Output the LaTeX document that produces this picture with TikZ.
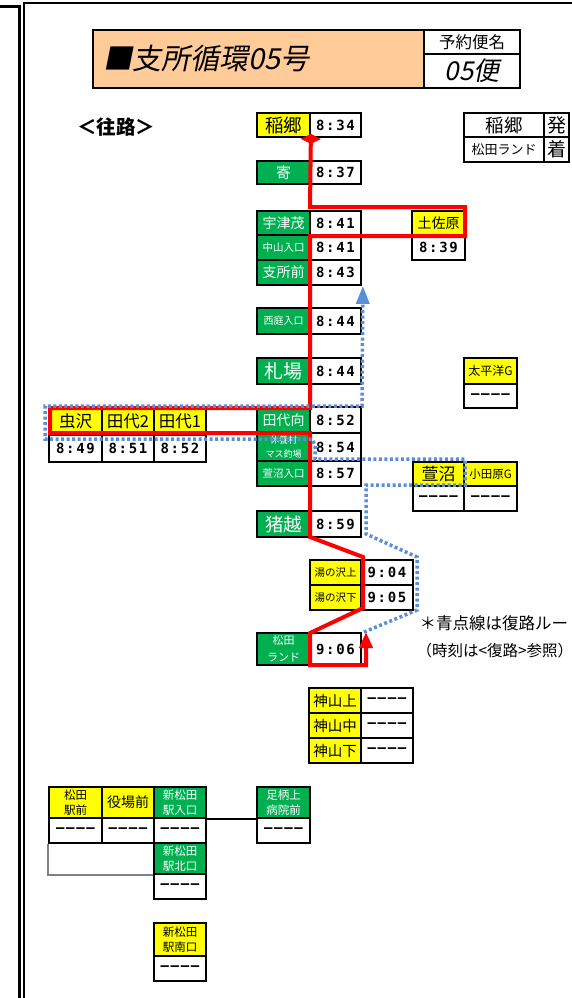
\documentclass[tikz,border=0pt]{standalone}
\usepackage{fontspec}
\newfontfamily\jp{Noto Sans CJK JP}
\newfontfamily\timefont{DejaVu Sans Mono}[LetterSpace=12]
\usetikzlibrary{arrows.meta}
\definecolor{xgreen}{HTML}{00B050}
\definecolor{xyellow}{HTML}{FFFF00}
\definecolor{xpeach}{HTML}{FFCC99}
\definecolor{xblue}{HTML}{5B8ED6}
\definecolor{xred}{HTML}{FF0000}
\tikzset{
 bx/.style={draw=black, line width=1.8pt, inner sep=0pt, align=center},
 gr/.style={bx, fill=xgreen, text=white},
 yl/.style={bx, fill=xyellow, text=black},
 tmc/.style={bx, fill=white, font=\timefont\bfseries\fontsize{14}{14}\selectfont},
 sz/.style 2 args={minimum width=#1, minimum height=#2},
 fs/.style={font=\jp\fontsize{#1}{#1}\selectfont},
 redroute/.style={draw=xred, line width=4pt},
 blueroute/.style={draw=xblue, line width=3.5pt, dash pattern=on 3pt off 2.5pt},
}
\begin{document}
\begin{tikzpicture}[x=1pt,y=-1pt]
\path[use as bounding box] (0,0) rectangle (572,998);
\clip (0,0) rectangle (572,998);
% frame
\draw[line width=3pt] (0,6.5) -- (19,6.5) -- (19,998);
\draw[line width=2pt] (24,998) -- (24,3) -- (572,3);
% header
\node[bx, fill=xpeach, sz={331pt}{58pt}] (title) at (258.5,59) {};
\node[anchor=west, font=\jp\fontsize{29}{29}\selectfont\addfontfeature{FakeSlant=0.2}] (titletxt) at ([xshift=8pt]title.west) {■支所循環05号};
\node[bx, fill=white, sz={96pt}{24pt}, fs=16.5] (yoyaku) at (472,42) {予約便名};
\node[bx, fill=white, sz={96pt}{34pt}, font=\jp\fontsize{26}{26}\selectfont\addfontfeature{FakeSlant=0.2}] (bin) at (472,71) {05便};
\node[font=\jp\bfseries\fontsize{19.5}{19.5}\selectfont] (ouro) at (116,127) {＜往路＞};
% legend
\node[bx, sz={80pt}{24pt}, fs=18.5] (lgA) at (504,125) {稲郷};
\node[bx, sz={25pt}{24pt}, fs=19] (lgB) at (556.5,125) {発};
\node[bx, sz={80pt}{25pt}, fs=13] (lgC) at (504,149.5) {松田ランド};
\node[bx, sz={25pt}{25pt}, fs=19] (lgD) at (556.5,149.5) {着};
% main column
\node[yl, sz={53pt}{24pt}, fs=18.5] (inagoL) at (283.5,125) {稲郷};
\node[tmc, sz={51pt}{24pt}] (inagoT) at (335.5,125) {8:34};
\node[gr, sz={53pt}{23pt}, fs=15] (yadoL) at (283.5,172.5) {寄};
\node[tmc, sz={51pt}{23pt}] (yadoT) at (335.5,172.5) {8:37};
\node[gr, sz={53pt}{24pt}, fs=14] (utsuL) at (283.5,223) {宇津茂};
\node[tmc, sz={51pt}{24pt}] (utsuT) at (335.5,223) {8:41};
\node[gr, sz={53pt}{25pt}, fs=10.5] (nakaL) at (283.5,247.5) {中山入口};
\node[tmc, sz={51pt}{25pt}] (nakaT) at (335.5,247.5) {8:41};
\node[gr, sz={53pt}{25pt}, fs=14] (shishoL) at (283.5,272.5) {支所前};
\node[tmc, sz={51pt}{25pt}] (shishoT) at (335.5,272.5) {8:43};
\node[gr, sz={53pt}{26pt}, fs=10] (nishiL) at (283.5,321) {西庭入口};
\node[tmc, sz={51pt}{26pt}] (nishiT) at (335.5,321) {8:44};
\node[gr, sz={53pt}{26pt}, fs=19] (fudaL) at (283.5,371) {札場};
\node[tmc, sz={51pt}{26pt}] (fudaT) at (335.5,371) {8:44};
\node[gr, sz={53pt}{26pt}, fs=14] (tashiroL) at (283.5,420) {田代向};
\node[tmc, sz={51pt}{26pt}] (tashiroT) at (335.5,420) {8:52};
\node[gr, sz={53pt}{28pt}, fs=9] (kyuL) at (283.5,447) {休養村\\[5pt]マス釣場};
\node[tmc, sz={51pt}{28pt}] (kyuT) at (335.5,447) {8:54};
\node[gr, sz={53pt}{25pt}, fs=10.5] (kayaiL) at (283.5,473.5) {萱沼入口};
\node[tmc, sz={51pt}{25pt}] (kayaiT) at (335.5,473.5) {8:57};
\node[gr, sz={53pt}{26pt}, fs=18.5] (inoL) at (283.5,524) {猪越};
\node[tmc, sz={51pt}{26pt}] (inoT) at (335.5,524) {8:59};
\node[yl, sz={51pt}{25pt}, fs=10.5] (yukamiL) at (335.5,572.5) {湯の沢上};
\node[tmc, sz={52pt}{25pt}] (yukamiT) at (387,572.5) {9:04};
\node[yl, sz={51pt}{25pt}, fs=10.5] (yushimoL) at (335.5,597.5) {湯の沢下};
\node[tmc, sz={52pt}{25pt}] (yushimoT) at (387,597.5) {9:05};
\node[gr, sz={53pt}{32pt}, fs=11] (landL) at (283.5,649) {松田\\[6pt]ランド};
\node[tmc, sz={51pt}{32pt}] (landT) at (335.5,649) {9:06};
% side stops
\node[yl, sz={53pt}{24pt}, fs=14] (tosaL) at (438.5,223) {土佐原};
\node[tmc, sz={53pt}{25pt}] (tosaT) at (438.5,247.5) {8:39};
\node[yl, sz={53pt}{26pt}, fs=12] (taiL) at (490.5,371) {太平洋G};
\node[tmc, sz={53pt}{24pt}] (taiT) at (490.5,396) {––––};
\node[yl, sz={51pt}{24pt}, fs=17] (kayaL) at (438.5,474) {萱沼};
\node[tmc, sz={51pt}{25pt}] (kayaT) at (438.5,498.5) {––––};
\node[yl, sz={53pt}{24pt}, fs=11.5] (odaL) at (490.5,474) {小田原G};
\node[tmc, sz={53pt}{25pt}] (odaT) at (490.5,498.5) {––––};
\node[yl, sz={53pt}{27pt}, fs=16.5] (mushiL) at (75.5,421.5) {虫沢};
\node[tmc, sz={53pt}{27pt}] (mushiT) at (75.5,448.5) {8:49};
\node[yl, sz={52pt}{27pt}, fs=16.5] (ta2L) at (128,421.5) {田代2};
\node[tmc, sz={52pt}{27pt}] (ta2T) at (128,448.5) {8:51};
\node[yl, sz={52pt}{27pt}, fs=16.5] (ta1L) at (180,421.5) {田代1};
\node[tmc, sz={52pt}{27pt}] (ta1T) at (180,448.5) {8:52};
% kamiyama
\node[yl, sz={52pt}{25pt}, fs=14.5] (kamiAL) at (335,700.5) {神山上};
\node[tmc, sz={52pt}{25pt}] (kamiAT) at (387,700.5) {––––};
\node[yl, sz={52pt}{25pt}, fs=14.5] (kamiBL) at (335,725.5) {神山中};
\node[tmc, sz={52pt}{25pt}] (kamiBT) at (387,725.5) {––––};
\node[yl, sz={52pt}{25pt}, fs=14.5] (kamiCL) at (335,750.5) {神山下};
\node[tmc, sz={52pt}{25pt}] (kamiCT) at (387,750.5) {––––};
% bottom
\node[yl, sz={53pt}{31pt}, fs=11.5] (mekiL) at (75.5,802.5) {松田\\[3pt]駅前};
\node[tmc, sz={53pt}{25pt}] (mekiT) at (75.5,830.5) {––––};
\node[yl, sz={52pt}{31pt}, fs=14] (yakuL) at (128,802.5) {役場前};
\node[tmc, sz={52pt}{25pt}] (yakuT) at (128,830.5) {––––};
\node[gr, sz={52pt}{31pt}, fs=11.5] (iriL) at (180,802.5) {新松田\\[3pt]駅入口};
\node[tmc, sz={52pt}{25pt}] (iriT) at (180,830.5) {––––};
\node[gr, sz={52pt}{31pt}, fs=11.5] (kitaL) at (180,858.5) {新松田\\[3pt]駅北口};
\node[tmc, sz={52pt}{25pt}] (kitaT) at (180,886.5) {––––};
\node[yl, sz={52pt}{33pt}, fs=11.5] (minamiL) at (180,939.5) {新松田\\[3pt]駅南口};
\node[tmc, sz={52pt}{25pt}] (minamiT) at (180,968.5) {––––};
\node[gr, sz={53pt}{31pt}, fs=11.5] (ashiL) at (283.5,802.5) {足柄上\\[3pt]病院前};
\node[tmc, sz={53pt}{25pt}] (ashiT) at (283.5,830.5) {––––};
\draw[line width=1.5pt] (iriL.south east) -- (ashiL.south west);
\draw[gray, line width=1.5pt] (mekiT.south west) -- (mekiT.south west |- kitaL.south) -- (kitaL.south west);
% notes
\node[anchor=west, fs=16.5] (note1) at (416,623) {＊青点線は復路ルー};
\node[anchor=west, fs=15.5] (note2) at (413,651) {（時刻は<復路>参照）};
% red route
\draw[redroute, {Diamond[length=10pt,width=20pt]}-{Triangle[length=16pt,width=13pt]}]
 ([yshift=4pt]inagoL.south east) -- (310,207) -- (465,207) -- (465,236) -- (310,236)
 -- (310,408) -- (50,408) -- (50,433) -- (310,433) -- (310,537) -- (363,557)
 -- (363,608) -- (310,633) -- (310,665) -- (366,665) -- (366,632);
% blue route
\draw[blueroute, -{Triangle[length=18pt,width=13pt]}]
 ([xshift=2pt]landT.north east) -- (417,610) -- (417,557) -- (366,534) -- (366,485)
 -- (465,485) -- (465,459) -- (315,459) -- (315,445) -- (312,439) -- (45,439)
 -- (45,406) -- (362,406) -- ([xshift=1pt]shishoT.south east);
\end{tikzpicture}
\end{document}
